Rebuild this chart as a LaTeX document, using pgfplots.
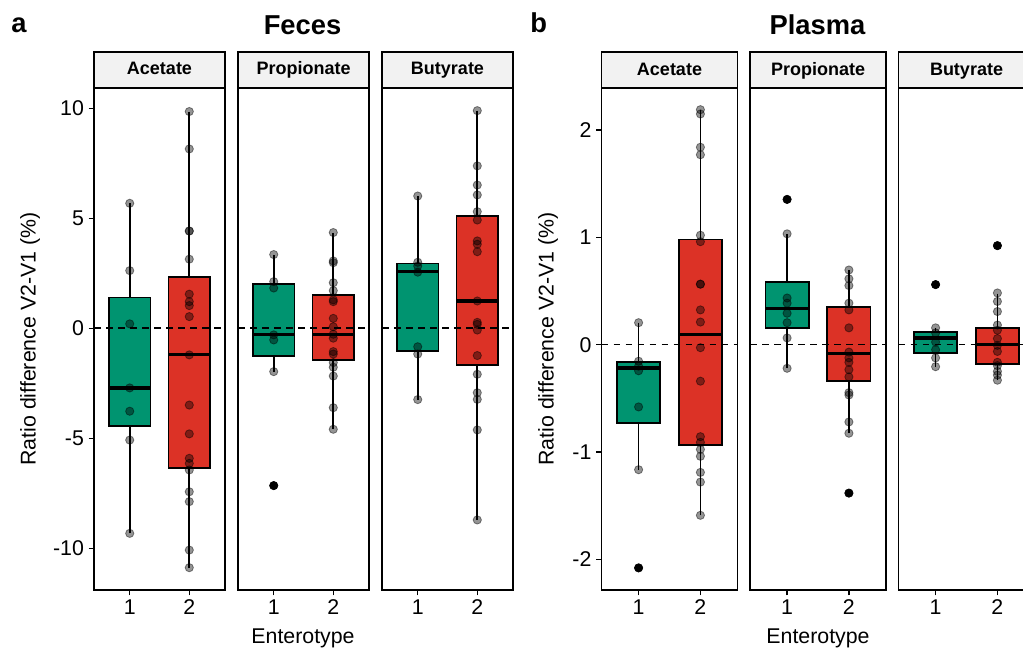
\documentclass[border=0pt]{standalone}
\usepackage{pgfplots}
\pgfplotsset{compat=1.18}
\usepgfplotslibrary{statistics}
\usepackage{fontspec}
\setmainfont{Liberation Sans}
\definecolor{ggreen}{RGB}{0,148,112}
\definecolor{gred}{RGB}{220,50,38}
\definecolor{stripgray}{RGB}{242,242,242}
\newcommand{\tickfont}{\fontsize{16}{18}\selectfont}
\newcommand{\stripfont}{\fontsize{13.5}{15}\selectfont\bfseries}
\pgfplotsset{
  facet/.style={
    scale only axis, height=376.5pt, anchor=south west,
    xmin=0.4, xmax=2.6, xtick={1,2}, xticklabels={1,2},
    ytick=\empty,
    tick align=outside, tick pos=left, major tick length=4pt,
    axis line style={line width=1.1pt, black},
    every tick/.style={line width=1.1pt, black},
    ticklabel style={font=\tickfont},
    clip=false,
  },
  bx/.style={boxplot prepared={#1}, draw=black, line width=1.1pt,
    boxplot/draw direction=y,
    boxplot/box extend=0.7, boxplot/whisker extend=0,
    boxplot/every whisker/.style={line width=1.2pt, black},
    boxplot/every box/.style={line width=1.2pt, draw=black},
    boxplot/every median/.style={line width=2.4pt, black}},
  pts/.style={only marks, mark=*, mark size=3.1pt,
    mark options={fill=black, draw=black, fill opacity=0.42, draw opacity=0.45, line width=0.6pt}},
  outl/.style={only marks, mark=*, mark size=3.1pt, mark options={fill=black, draw=black}},
  zline/.style={black, line width=1.2pt, dash pattern=on 5pt off 4pt},
}
\newcommand{\facetstrip}[1]{%
  \draw[fill=stripgray, line width=1.1pt] (rel axis cs:0,1) rectangle (rel axis cs:1,1.0717);
  \node[font=\stripfont, anchor=base] at (rel axis cs:0.5,1.0259) {#1};}
\begin{document}
\begin{tikzpicture}
\useasboundingbox (0,0) rectangle (767.25pt,485.25pt);
% ---------------- Feces ----------------
\begin{axis}[facet, at={(70.5pt,42.75pt)}, width=98.25pt, ymin=-11.895, ymax=10.92,
  ytick={-10,-5,0,5,10}, yticklabels={-10,-5,0,5,10}]
\addplot[bx={draw position=1, lower whisker=-9.32, lower quartile=-4.43, median=-2.71, upper quartile=1.39, upper whisker=5.68}, fill=ggreen] coordinates {};
\addplot[bx={draw position=2, lower whisker=-10.88, lower quartile=-6.34, median=-1.21, upper quartile=2.32, upper whisker=9.85}, fill=gred] coordinates {};
\addplot[zline] coordinates {(0.4,0) (2.6,0)};
\addplot[pts] coordinates {(1,5.68) (1,2.62) (1,0.2) (1,-2.71) (1,-3.77) (1,-5.08) (1,-9.32)};
\addplot[pts] coordinates {(2,9.85) (2,8.15) (2,4.42) (2,4.42) (2,3.14) (2,1.55) (2,1.21) (2,1.03) (2,0.53) (2,-1.21) (2,-3.49) (2,-4.80) (2,-5.91) (2,-6.14) (2,-6.44) (2,-7.43) (2,-7.88) (2,-10.08) (2,-10.88)};
\facetstrip{Acetate}
\end{axis}
\begin{axis}[facet, at={(178.5pt,42.75pt)}, width=98.25pt, ymin=-11.895, ymax=10.92]
\addplot[bx={draw position=1, lower whisker=-1.97, lower quartile=-1.26, median=-0.28, upper quartile=2.0, upper whisker=3.35}, fill=ggreen] coordinates {};
\addplot[bx={draw position=2, lower whisker=-4.59, lower quartile=-1.44, median=-0.27, upper quartile=1.51, upper whisker=4.35}, fill=gred] coordinates {};
\addplot[outl] coordinates {(1,-7.15)};
\addplot[zline] coordinates {(0.4,0) (2.6,0)};
\addplot[pts] coordinates {(1,3.35) (1,2.12) (1,1.83) (1,-0.3) (1,-0.53) (1,-1.97) (1,-7.15)};
\addplot[pts] coordinates {(2,4.35) (2,3.06) (2,2.98) (2,2.07) (2,1.71) (2,1.29) (2,1.21) (2,0.45) (2,0.07) (2,-0.27) (2,-0.45) (2,-1.06) (2,-1.17) (2,-1.56) (2,-1.77) (2,-2.17) (2,-3.61) (2,-4.59)};
\facetstrip{Propionate}
\end{axis}
\begin{axis}[facet, at={(286.5pt,42.75pt)}, width=98.25pt, ymin=-11.895, ymax=10.92]
\addplot[bx={draw position=1, lower whisker=-3.24, lower quartile=-1.02, median=2.57, upper quartile=2.94, upper whisker=6.01}, fill=ggreen] coordinates {};
\addplot[bx={draw position=2, lower whisker=-8.71, lower quartile=-1.67, median=1.24, upper quartile=5.1, upper whisker=9.89}, fill=gred] coordinates {};
\addplot[zline] coordinates {(0.4,0) (2.6,0)};
\addplot[pts] coordinates {(1,6.01) (1,3.0) (1,2.83) (1,2.55) (1,-0.84) (1,-1.17) (1,-3.24)};
\addplot[pts] coordinates {(2,9.89) (2,7.38) (2,6.51) (2,6.06) (2,5.30) (2,4.92) (2,3.97) (2,3.82) (2,3.48) (2,1.24) (2,0.27) (2,0.18) (2,-0.08) (2,-1.24) (2,-2.09) (2,-2.93) (2,-3.23) (2,-4.62) (2,-8.71)};
\facetstrip{Butyrate}
\end{axis}
% ---------------- Plasma ----------------
\begin{axis}[facet, at={(451.125pt,42.75pt)}, width=102pt, ymin=-2.286, ymax=2.392,
  ytick={-2,-1,0,1,2}, yticklabels={-2,-1,0,1,2}]
\addplot[bx={draw position=1, lower whisker=-1.165, lower quartile=-0.731, median=-0.217, upper quartile=-0.164, upper whisker=0.205}, fill=ggreen] coordinates {};
\addplot[bx={draw position=2, lower whisker=-1.59, lower quartile=-0.935, median=0.098, upper quartile=0.98, upper whisker=2.19}, fill=gred] coordinates {};
\addplot[outl] coordinates {(1,-2.08)};
\addplot[zline] coordinates {(0.4,0) (2.6,0)};
\addplot[pts] coordinates {(1,0.205) (1,-0.154) (1,-0.2) (1,-0.243) (1,-0.58) (1,-1.165) (1,-2.08)};
\addplot[pts] coordinates {(2,2.19) (2,2.15) (2,1.84) (2,1.77) (2,1.02) (2,0.96) (2,0.564) (2,0.564) (2,0.324) (2,0.211) (2,-0.028) (2,-0.34) (2,-0.857) (2,-0.91) (2,-0.976) (2,-1.04) (2,-1.19) (2,-1.28) (2,-1.59)};
\facetstrip{Acetate}
\end{axis}
\begin{axis}[facet, at={(562.5pt,42.75pt)}, width=102pt, ymin=-2.286, ymax=2.392]
\addplot[bx={draw position=1, lower whisker=-0.22, lower quartile=0.157, median=0.334, upper quartile=0.583, upper whisker=1.033}, fill=ggreen] coordinates {};
\addplot[bx={draw position=2, lower whisker=-0.825, lower quartile=-0.337, median=-0.079, upper quartile=0.35, upper whisker=0.696}, fill=gred] coordinates {};
\addplot[outl] coordinates {(1,1.354) (2,-1.383)};
\addplot[zline] coordinates {(0.4,0) (2.6,0)};
\addplot[pts] coordinates {(1,1.354) (1,1.033) (1,0.435) (1,0.387) (1,0.293) (1,0.205) (1,0.063) (1,-0.22)};
\addplot[pts] coordinates {(2,0.696) (2,0.614) (2,0.551) (2,0.387) (2,0.324) (2,0.157) (2,-0.069) (2,-0.123) (2,-0.164) (2,-0.233) (2,-0.3) (2,-0.447) (2,-0.469) (2,-0.72) (2,-0.825) (2,-1.383)};
\facetstrip{Propionate}
\end{axis}
\begin{axis}[facet, at={(673.875pt,42.75pt)}, width=102pt, ymin=-2.286, ymax=2.392]
\addplot[bx={draw position=1, lower whisker=-0.205, lower quartile=-0.076, median=0.063, upper quartile=0.12, upper whisker=0.157}, fill=ggreen] coordinates {};
\addplot[bx={draw position=2, lower whisker=-0.331, lower quartile=-0.18, median=0.0, upper quartile=0.157, upper whisker=0.476}, fill=gred] coordinates {};
\addplot[outl] coordinates {(1,0.56) (2,0.923)};
\addplot[zline] coordinates {(0.4,0) (2.6,0)};
\addplot[pts] coordinates {(1,0.56) (1,0.157) (1,0.11) (1,0.025) (1,-0.047) (1,-0.123) (1,-0.205)};
\addplot[pts] coordinates {(2,0.923) (2,0.482) (2,0.403) (2,0.309) (2,0.183) (2,0.135) (2,0.057) (2,-0.006) (2,-0.063) (2,-0.164) (2,-0.195) (2,-0.249) (2,-0.283) (2,-0.331)};
\facetstrip{Butyrate}
\end{axis}
% ---------------- texts ----------------
\node[font=\fontsize{20.5}{22}\selectfont\bfseries, anchor=base] at (14.25pt,460.9pt) {a};
\node[font=\fontsize{20.5}{22}\selectfont\bfseries, anchor=base] at (226.9pt,459.5pt) {Feces};
\node[font=\fontsize{20.5}{22}\selectfont\bfseries, anchor=base] at (404pt,460.9pt) {b};
\node[font=\fontsize{20.5}{22}\selectfont\bfseries, anchor=base] at (613.1pt,459.5pt) {Plasma};
\node[font=\tickfont, rotate=90] at (22.5pt,231pt) {Ratio difference V2-V1 (\%)};
\node[font=\tickfont, rotate=90] at (411pt,231pt) {Ratio difference V2-V1 (\%)};
\node[font=\tickfont, anchor=base] at (227.25pt,3pt) {Enterotype};
\node[font=\tickfont, anchor=base] at (613.5pt,3pt) {Enterotype};
\end{tikzpicture}
\end{document}
